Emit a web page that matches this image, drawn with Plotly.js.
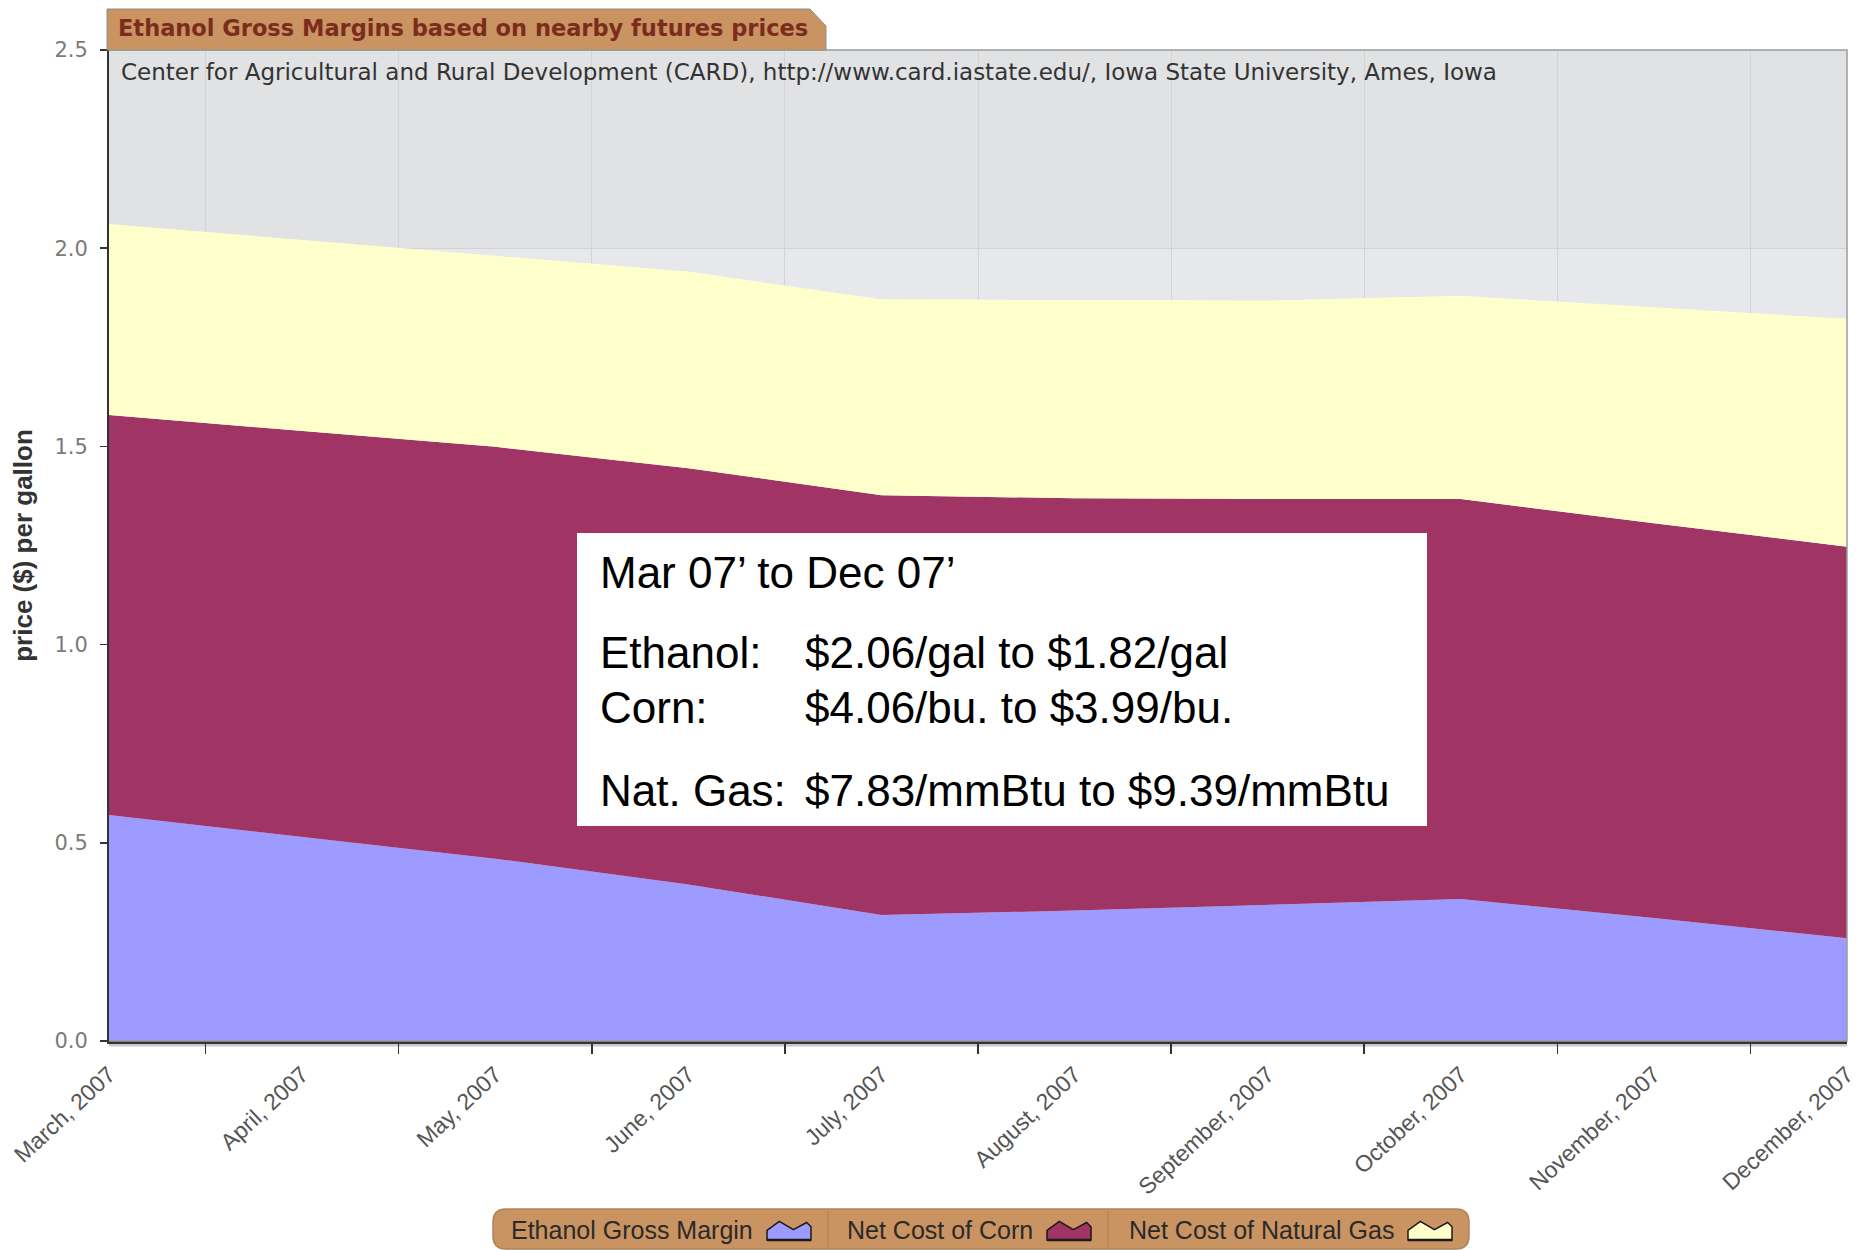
<!DOCTYPE html>
<html>
<head>
<meta charset="utf-8">
<script src="https://cdn.plot.ly/plotly-3.0.1.min.js"></script>
<style>html,body{margin:0;padding:0;background:#ffffff;}</style>
</head>
<body>
<div id="chart" style="width:1862px;height:1250px;"></div>
<script>
// ---------------- data ----------------
const months = ['March, 2007','April, 2007','May, 2007','June, 2007','July, 2007',
                'August, 2007','September, 2007','October, 2007','November, 2007','December, 2007'];
// stacked components, $ per gallon, sampled mid-month
const grossMargin = [0.570, 0.515, 0.460, 0.395, 0.318, 0.329, 0.343, 0.358, 0.310, 0.259];
const netCostCorn = [1.009, 1.024, 1.039, 1.050, 1.059, 1.040, 1.024, 1.009, 0.996, 0.988];
const netCostGas  = [0.482, 0.482, 0.482, 0.496, 0.494, 0.500, 0.501, 0.513, 0.545, 0.575];
const seriesNames  = ['Ethanol Gross Margin', 'Net Cost of Corn', 'Net Cost of Natural Gas'];
const seriesColors = ['#9d9bff', '#a03465', '#ffffcc'];
const yTicks = [0, 0.5, 1.0, 1.5, 2.0, 2.5];
const chartTitle = 'Ethanol Gross Margins based on nearby futures prices';
const sourceNote = 'Center for Agricultural and Rural Development (CARD), http://www.card.iastate.edu/, Iowa State University, Ames, Iowa';
const yTitle = 'price ($) per gallon';
const noteLines = [
  ['Mar 07\u2019 to Dec 07\u2019', ''],
  ['Ethanol:', '$2.06/gal to $1.82/gal'],
  ['Corn:', '$4.06/bu. to $3.99/bu.'],
  ['Nat. Gas:', '$7.83/mmBtu to $9.39/mmBtu']
];

// ---------------- geometry helpers ----------------
const WIDTH = 1862, HEIGHT = 1250;
const L = 109, R = 1847, T = 50, B = 1041;
const px = x => (x - L) / (R - L);
const py = y => (B - y) / (B - T);
const P = (x, y) => px(x).toFixed(5) + ',' + py(y).toFixed(5);

// x positions: month index; samples and labels sit mid-month, tick marks at month boundaries
const xMid = months.map((m, i) => i + 0.5);

const seriesData = [grossMargin, netCostCorn, netCostGas];
const traces = seriesData.map((vals, k) => ({
  type: 'scatter',
  mode: 'lines',
  name: seriesNames[k],
  x: xMid,
  y: vals,
  stackgroup: 'one',
  fill: 'tonexty',
  fillcolor: seriesColors[k],
  line: {width: 0, color: seriesColors[k]},
  hoverinfo: 'x+y+name'
}));

function roundRect(x0, y0, x1, y1, r) {
  return 'M' + P(x0 + r, y0) + ' L' + P(x1 - r, y0) + ' Q' + P(x1, y0) + ' ' + P(x1, y0 + r) +
         ' L' + P(x1, y1 - r) + ' Q' + P(x1, y1) + ' ' + P(x1 - r, y1) +
         ' L' + P(x0 + r, y1) + ' Q' + P(x0, y1) + ' ' + P(x0, y1 - r) +
         ' L' + P(x0, y0 + r) + ' Q' + P(x0, y0) + ' ' + P(x0 + r, y0) + ' Z';
}
function iconPath(x0, y0, w, h) {
  const pts = [[0,1],[0,0.5],[0.28,0.02],[0.6,0.45],[0.9,0.08],[1,0.3],[1,1]];
  return 'M' + pts.map(p => P(x0 + p[0]*w, y0 + p[1]*h)).join(' L') + ' Z';
}

const shapes = [
  {type:'rect', xref:'paper', yref:'y', x0:0, x1:1, y0:2.0, y1:2.5,
   fillcolor:'#e1e2e4', line:{width:0}, layer:'below'},
  {type:'path', xref:'paper', yref:'paper', path:'M0,0 L1,0 L1,1 L0,1',
   line:{color:'#9c9c9c', width:1.5}, layer:'above'},
  {type:'line', xref:'paper', yref:'paper', x0:0, x1:1, y0:py(1045), y1:py(1045),
   line:{color:'#c8c8c8', width:3}, layer:'below'},
  {type:'path', xref:'paper', yref:'paper',
   path:'M' + P(107, 50) + ' L' + P(107, 9) + ' L' + P(810, 9) + ' L' + P(826, 26) + ' L' + P(826, 50) + ' Z',
   fillcolor:'#c99462', line:{color:'#8e8e8e', width:1}, layer:'above'},
  {type:'rect', xref:'paper', yref:'paper', x0:px(577), x1:px(1427), y0:py(826), y1:py(533),
   fillcolor:'#ffffff', line:{width:0}, layer:'above'},
  {type:'path', xref:'paper', yref:'paper', path: roundRect(493, 1209, 1469, 1249, 13),
   fillcolor:'#c99462', line:{color:'#a9845f', width:1.5}, layer:'above'},
  {type:'line', xref:'paper', yref:'paper', x0:px(828), x1:px(828), y0:py(1211), y1:py(1247),
   line:{color:'#b57f4d', width:1}, layer:'above'},
  {type:'line', xref:'paper', yref:'paper', x0:px(1108), x1:px(1108), y0:py(1211), y1:py(1247),
   line:{color:'#b57f4d', width:1}, layer:'above'}
];

const iconX = [767, 1047, 1408];
iconX.forEach((x0, k) => {
  shapes.push({type:'path', xref:'paper', yref:'paper', path: iconPath(x0, 1221, 44, 19),
    fillcolor: seriesColors[k], line:{color:'#1a1a1a', width:1.5}, layer:'above'});
  shapes.push({type:'line', xref:'paper', yref:'paper', x0:px(x0), x1:px(x0 + 44), y0:py(1240), y1:py(1240),
    line:{color:'#1a1a1a', width:2.5}, layer:'above'});
});

const annotations = [
  {text: sourceNote, xref:'paper', yref:'paper', x:px(119), y:py(72), xanchor:'left', yanchor:'middle',
   showarrow:false, font:{family:'DejaVu Sans', size:23, color:'#333333'}}
];
const noteY = [572, 652, 707, 790];
noteLines.forEach((ln, i) => {
  annotations.push({text: ln[0], xref:'paper', yref:'paper', x:px(598), y:py(noteY[i]), xanchor:'left', yanchor:'middle',
    showarrow:false, font:{family:'Liberation Sans', size:44, color:'#000000'}});
  if (ln[1]) annotations.push({text: ln[1], xref:'paper', yref:'paper', x:px(803), y:py(noteY[i]), xanchor:'left', yanchor:'middle',
    showarrow:false, font:{family:'Liberation Sans', size:44, color:'#000000'}});
});
seriesNames.forEach((name, k) => {
  annotations.push({text: name, xref:'paper', yref:'paper', x:px(iconX[k] - 12), y:py(1230), xanchor:'right', yanchor:'middle',
    showarrow:false, font:{family:'Liberation Sans', size:25, color:'#2a2a2a'}});
});

const layout = {
  width: WIDTH, height: HEIGHT,
  margin: {l: L, r: WIDTH - R, t: T, b: HEIGHT - B, pad: 0},
  paper_bgcolor: '#ffffff',
  plot_bgcolor: '#e6e8eb',
  showlegend: false,
  title: {text: chartTitle, xref:'paper', x: px(118), xanchor:'left', yref:'container', y: 1 - 28/HEIGHT, yanchor:'middle',
          font: {family:'DejaVu Sans', size:22.5, weight:700, color:'#7b2d1d'}},
  xaxis: {
    type: 'linear', range: [0.5, 9.500001], tickmode: 'array', tickvals: xMid, ticktext: months,
    tickangle: -43, ticks: 'outside', ticklen: 8, tickwidth: 0, tickcolor: 'rgba(0,0,0,0)',
    ticklabeloverflow: 'allow',
    showline: true, linecolor: '#333333', linewidth: 3,
    showgrid: false, zeroline: false,
    minor: {tick0: 0, dtick: 1, ticks: 'outside', ticklen: 10, tickwidth: 1.5, tickcolor: '#333333',
            showgrid: true, gridcolor: '#d2d3d5', gridwidth: 1},
    tickfont: {family:'Liberation Sans', size:23, color:'#555555'}, fixedrange: true
  },
  yaxis: {
    range: [0, 2.5], tickmode: 'array', tickvals: yTicks, tickformat: '.1f',
    ticks: 'outside', ticklen: 7, tickwidth: 1.5, tickcolor: '#333333',
    showline: true, linecolor: '#333333', linewidth: 2,
    showgrid: true, gridcolor: '#d2d3d5', gridwidth: 1, zeroline: false,
    tickfont: {family:'DejaVu Sans', size:21, color:'#7a7a7a'}, ticklabelstandoff: 8,
    title: {text: yTitle, standoff: 14, font: {family:'Liberation Sans', size:26, weight:700, color:'#333333'}},
    fixedrange: true
  },
  shapes: shapes,
  annotations: annotations
};

Plotly.newPlot('chart', traces, layout, {displayModeBar: false, staticPlot: true});
</script>
</body>
</html>
